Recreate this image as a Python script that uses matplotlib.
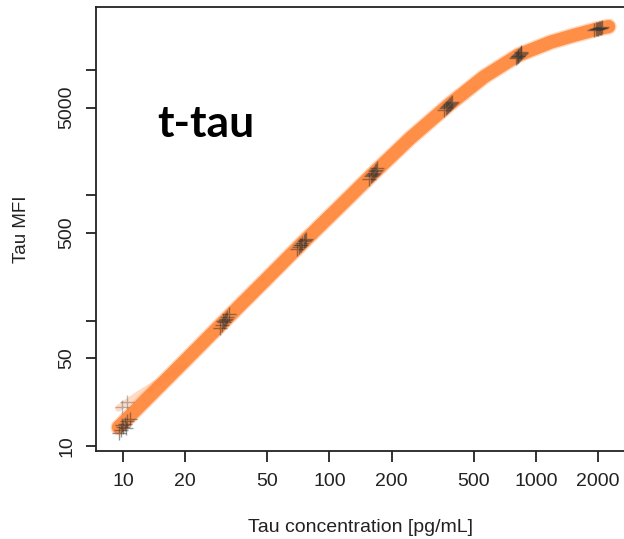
import numpy as np
import matplotlib
matplotlib.use('Agg')
import matplotlib.pyplot as plt

plt.rcParams['font.family'] = ['Liberation Sans', 'DejaVu Sans']

# standards (replicate readings per concentration level)
std_conc = [
    9.6, 9.8, 10.0, 10.2, 10.5, 10.8, 9.9, 10.3,
    29.5, 30.2, 30.8, 31.3, 31.9, 32.6, 30.5, 31.6,
    70, 71.5, 73, 74, 75.5, 77, 72, 76,
    156, 159, 162, 164, 167, 170, 160, 168,
    360, 368, 374, 378, 384, 392, 370, 388,
    800, 812, 820, 826, 835, 848, 815, 842,
    1920, 1960, 2000, 2020, 2050, 2090, 1980, 2070,
]
std_mfi = [
    12.8, 13.5, 14.2, 15.0, 15.8, 16.5, 14.6, 13.9,
    88, 93, 97, 101, 106, 112, 99, 104,
    370, 390, 405, 417, 432, 450, 398, 440,
    1350, 1420, 1480, 1510, 1560, 1640, 1450, 1600,
    4750, 4950, 5150, 5260, 5400, 5600, 5050, 5500,
    12400, 12800, 13000, 13200, 13500, 13800, 12900, 13600,
    20900, 21200, 21400, 21500, 21700, 21900, 21300, 21800,
]
# two off-curve low standards
out_conc = [9.9, 10.5]
out_mfi = [20.5, 22.5]

# fitted curve
fit_conc = [9.5, 10, 20, 31.3, 50, 74, 110, 164, 247, 378, 560, 826, 1183, 1528, 2000, 2250]
fit_mfi = [14.1, 15.3, 48, 101, 218, 417, 790, 1510, 2870, 5260, 8810, 13200, 16700, 18900, 21300, 22200]
# faint curve through the outliers
fit2_conc = [9.5, 12, 16, 20]
fit2_mfi = [20.0, 26, 35, 45]

xticks = [10, 20, 50, 100, 200, 500, 1000, 2000]
yticks = [10, 50, 100, 500, 1000, 5000, 10000]
ylabels = ['10', '50', '', '500', '', '5000', '']

fig = plt.figure(figsize=(6.24, 5.39), dpi=100)
ax = fig.add_axes([96 / 624, 88 / 539, 530 / 624, 444 / 539])

ax.plot(fit2_conc, fit2_mfi, color='#FF8A40', lw=5, alpha=0.3, solid_capstyle='round')
# soft edge, then the band itself
ax.plot(fit_conc, fit_mfi, color='#FF8A40', lw=11.5, alpha=0.35,
        solid_capstyle='round', solid_joinstyle='round')
ax.plot(fit_conc, fit_mfi, color='#FF8A40', lw=9.5, alpha=0.95,
        solid_capstyle='round', solid_joinstyle='round')
ax.plot(std_conc, std_mfi, ls='none', marker='+', ms=10, mew=1.0, color='#333333', alpha=0.5)
ax.plot(out_conc, out_mfi, ls='none', marker='+', ms=10, mew=1.0, color='#555555', alpha=0.4)

ax.set_xscale('log')
ax.set_yscale('log')
ax.set_xlim(7.4, 2730)
ax.set_ylim(9.12, 31800)

ax.xaxis.set_minor_locator(matplotlib.ticker.NullLocator())
ax.yaxis.set_minor_locator(matplotlib.ticker.NullLocator())
ax.set_xticks(xticks)
ax.set_xticklabels([str(v) for v in xticks])
ax.set_yticks(yticks)
ax.set_yticklabels(ylabels, rotation=90, va='center')

ax.tick_params(axis='x', length=8, width=1.3, pad=8, labelsize=14, colors='#222222')
ax.tick_params(axis='y', length=7, width=1.3, pad=8, labelsize=14, colors='#222222')
for s in ['left', 'top', 'bottom']:
    ax.spines[s].set_linewidth(1.3)
    ax.spines[s].set_color('#222222')
ax.spines['right'].set_visible(False)

ax.set_xlabel('Tau concentration [pg/mL]', fontsize=14, color='#222222')
ax.set_ylabel('Tau MFI', fontsize=13.5, color='#222222')
ax.xaxis.set_label_coords(0.5, -76 / 444)
ax.yaxis.set_label_coords(-74 / 530, 0.5)
ax.xaxis.label.set_va('center')
ax.yaxis.label.set_va('center')

ax.text(0.115, 0.707, 't-tau', transform=ax.transAxes, fontsize=32,
        fontweight='bold', family='Lato', ha='left', va='baseline')

fig.savefig('out.png', dpi=100)
